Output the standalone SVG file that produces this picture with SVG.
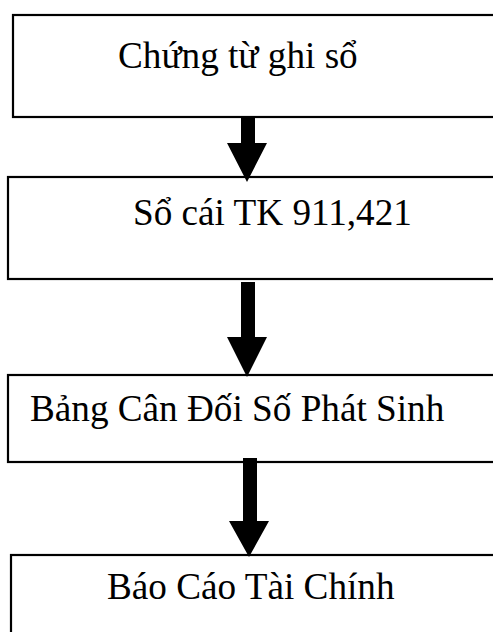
<svg xmlns="http://www.w3.org/2000/svg" width="493" height="632" viewBox="0 0 493 632">
<style>
.box{fill:#fff;stroke:#000;stroke-width:2.2}
.lbl{font-family:"Liberation Serif","Times New Roman",serif;font-size:37.2px;fill:#000}
.arr{fill:#000;stroke:none}
</style>
<rect width="493" height="632" fill="#fff"/>
<g id="node1"><rect class="box" x="13" y="15" width="490" height="102"/><text class="lbl" x="118" y="68">Chứng từ ghi sổ</text></g>
<g id="node2"><rect class="box" x="8" y="177" width="495" height="102"/><text class="lbl" x="133" y="225">Sổ cái TK 911,421</text></g>
<g id="node3"><rect class="box" x="8" y="375" width="495" height="87"/><text class="lbl" x="30" y="421">Bảng Cân Đối Số Phát Sinh</text></g>
<g id="node4"><rect class="box" x="11" y="555" width="492" height="90"/><text class="lbl" x="107" y="599">Báo Cáo Tài Chính</text></g>
<g id="connectors">
<polygon class="arr" points="241,117 255,117 255,143 267,143 247,182 227,143 241,143"/>
<polygon class="arr" points="241,282 255,282 255,337 267,337 247,377 227,337 241,337"/>
<polygon class="arr" points="243,458 257,458 257,521 269,521 249,557 229,521 243,521"/>
</g>
</svg>
